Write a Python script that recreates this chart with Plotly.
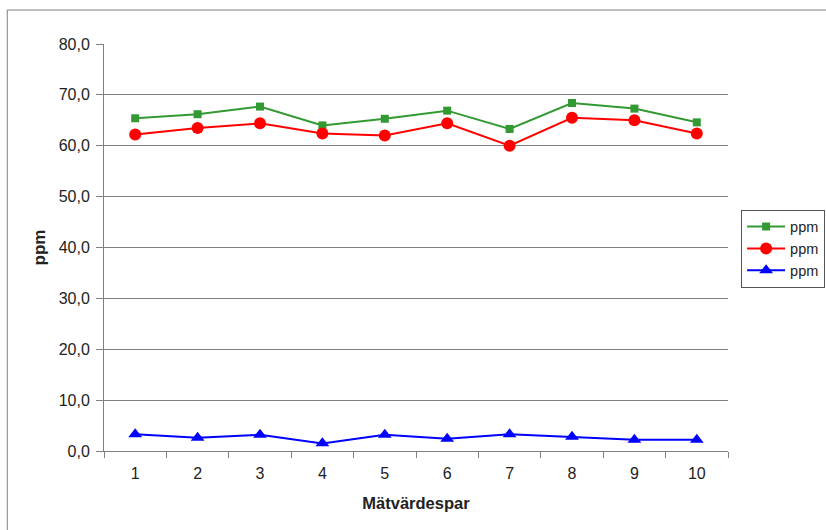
import plotly.graph_objects as go

categories = ["1", "2", "3", "4", "5", "6", "7", "8", "9", "10"]
green_vals = [65.4, 66.2, 67.7, 64.0, 65.3, 66.9, 63.3, 68.4, 67.3, 64.6]
red_vals = [62.2, 63.5, 64.4, 62.4, 62.0, 64.4, 60.0, 65.5, 65.0, 62.4]
blue_vals = [3.3, 2.6, 3.2, 1.5, 3.2, 2.4, 3.3, 2.8, 2.2, 2.2]
series_names = ["ppm", "ppm", "ppm"]
y_ticks = [0, 10, 20, 30, 40, 50, 60, 70, 80]

fig = go.Figure()
fig.add_trace(go.Scatter(x=categories, y=green_vals, name=series_names[0], mode="lines+markers",
                         line=dict(color="#339933", width=2),
                         marker=dict(symbol="square", size=8, color="#339933")))
fig.add_trace(go.Scatter(x=categories, y=red_vals, name=series_names[1], mode="lines+markers",
                         line=dict(color="#ff0000", width=2),
                         marker=dict(symbol="circle", size=12, color="#ff0000")))
fig.add_trace(go.Scatter(x=categories, y=blue_vals, name=series_names[2], mode="lines+markers",
                         line=dict(color="#0000ff", width=2),
                         marker=dict(symbol="triangle-up", size=12, color="#0000ff")))

font = "Liberation Sans, Arial, sans-serif"
fig.update_layout(
    width=826, height=530,
    margin=dict(l=104, r=98, t=44, b=79, autoexpand=False),
    paper_bgcolor="white", plot_bgcolor="white",
    separators=", ",
    font=dict(family=font, size=16, color="#222222"),
    showlegend=True,
    legend=dict(x=1.021, y=0.593, xanchor="left", yanchor="top",
                bordercolor="#555555", borderwidth=1, bgcolor="white",
                font=dict(size=14.5), tracegroupgap=0, itemwidth=38),
    xaxis=dict(type="category", range=[-0.5, 9.5], tickson="boundaries",
               ticks="outside", ticklen=6, tickcolor="#808080",
               ticklabelstandoff=8, automargin=False,
               showline=True, linecolor="#808080", linewidth=1,
               showgrid=False, zeroline=False,
               title=dict(text="<b>Mätvärdespar</b>", font=dict(size=16.5), standoff=16)),
    yaxis=dict(range=[0, 80], tickvals=y_ticks, tickformat=".1f",
               ticks="outside", ticklen=7, tickcolor="#808080",
               ticklabelstandoff=3, automargin=False,
               showline=True, linecolor="#808080", linewidth=1,
               showgrid=True, gridcolor="#808080", gridwidth=1, zeroline=False,
               title=dict(text="<b>ppm</b>", font=dict(size=17), standoff=8)),
)
fig.add_shape(type="rect", xref="paper", yref="paper",
              x0=-0.155, y0=-0.5, x1=1.5, y1=1.0835,
              line=dict(color="#808080", width=1), layer="below")
fig.write_html("out.html", config={"displayModeBar": False},
               post_script="document.body.style.margin='0';")
